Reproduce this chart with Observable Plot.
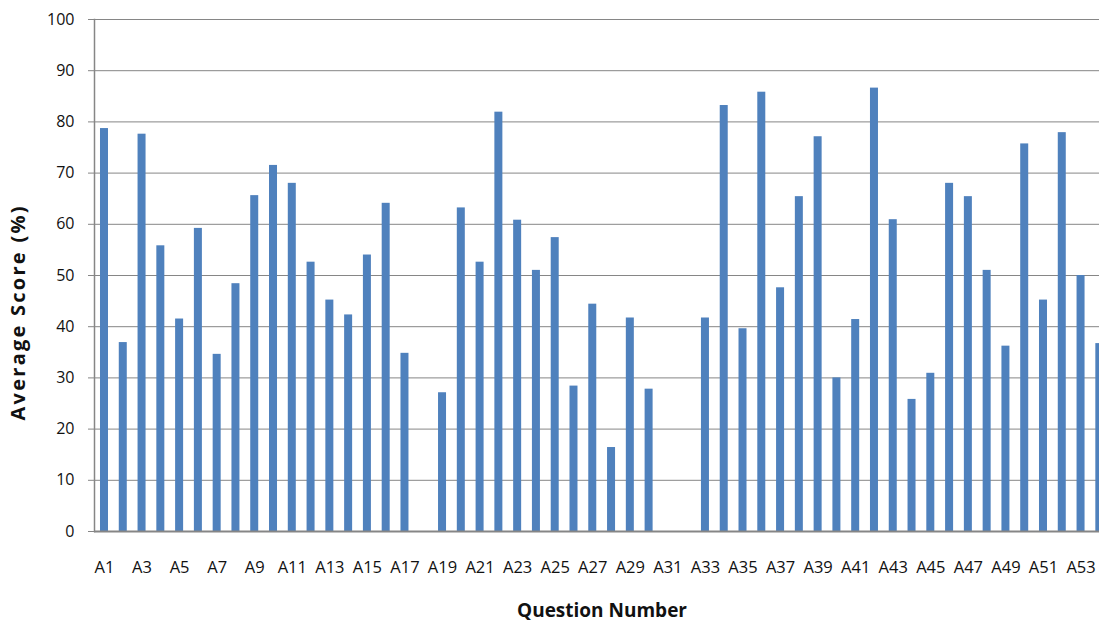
<!DOCTYPE html>
<html>
<head>
<meta charset="utf-8">
<script src="https://cdn.jsdelivr.net/npm/d3@7"></script>
<script src="https://cdn.jsdelivr.net/npm/@observablehq/plot@0.6"></script>
<style>
  html, body { margin: 0; padding: 0; background: #fff; overflow: hidden; }
  #chart svg { overflow: hidden; display: block; }
</style>
</head>
<body>
<div id="chart"></div>
<script>
const questions = d3.range(1, 55).map(i => "A" + i);
const scores = [
  78.7, 36.9, 77.6, 55.8, 41.5, 59.2, 34.6, 48.4, 65.6, 71.5,
  68.0, 52.6, 45.2, 42.3, 54.0, 64.1, 34.8, null, 27.1, 63.2,
  52.6, 81.9, 60.8, 51.0, 57.4, 28.4, 44.4, 16.4, 41.7, 27.8,
  null, null, 41.7, 83.2, 39.6, 85.8, 47.6, 65.4, 77.1, 30.0,
  41.4, 86.6, 60.9, 25.8, 30.9, 68.0, 65.4, 51.0, 36.2, 75.7,
  45.2, 77.9, 50.0, 36.7
];
const yTicks = d3.range(0, 101, 10);
const xTickLabels = questions.filter((d, i) => i % 2 === 0);
const xTitle = "Question Number";
const yTitle = "Average Score (%)";

const data = questions.map((q, i) => ({q, v: scores[i]})).filter(d => d.v != null);

const step = 18.78;
const left = 94.6;
const gray = "#868686";

const chart = Plot.plot({
  width: 1099,
  height: 622,
  marginLeft: 94,
  marginRight: -10,
  marginTop: 19,
  marginBottom: 91,
  style: {fontFamily: "'Open Sans', sans-serif", fontSize: "16px", color: "#111", background: "#fff"},
  x: {type: "band", domain: questions, range: [left, left + questions.length * step], paddingInner: 0.574, paddingOuter: 0.287},
  y: {domain: [0, 100], range: [531, 19]},
  marks: [
    Plot.gridY(yTicks, {stroke: gray, strokeOpacity: 1, strokeWidth: 1}),
    Plot.barY(data, {x: "q", y: "v", fill: "#4F81BD"}),
    Plot.ruleY([0], {stroke: gray, strokeWidth: 2}),
    Plot.frame({anchor: "left", stroke: gray, strokeWidth: 1.5}),
    Plot.axisY(yTicks, {tickSize: 6, tickPadding: 14, stroke: gray, fill: "#111", fontSize: 16, label: null}),
    Plot.axisX(xTickLabels, {tickSize: 0, tickPadding: 30, fill: "#111", fontSize: 16.5, label: null}),
    Plot.text([xTitle], {frameAnchor: "bottom", text: d => d, dy: 79, lineAnchor: "middle", textAnchor: "middle", fontWeight: "bold", fontSize: 19, fill: "#111"}),
    Plot.text([yTitle], {frameAnchor: "left", text: d => d, dx: -76, dy: 38, rotate: -90, lineAnchor: "middle", textAnchor: "middle", fontWeight: "bold", fontSize: 20, fill: "#111"})
  ]
});
d3.select(chart).selectAll("text").filter(function() { return this.textContent === yTitle; })
  .attr("textLength", 214).attr("lengthAdjust", "spacing");
document.getElementById("chart").appendChild(chart);
</script>
</body>
</html>
